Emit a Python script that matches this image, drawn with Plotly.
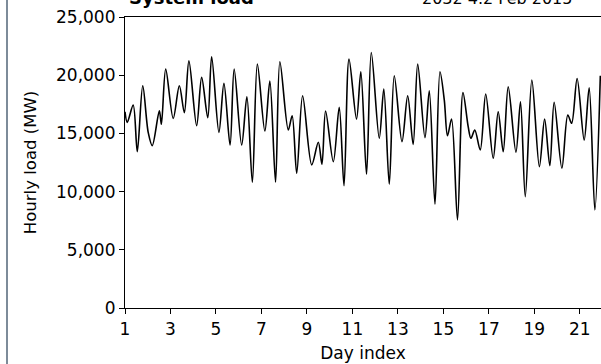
import plotly.graph_objects as go

day_index = [1.00, 1.10, 1.36, 1.54, 1.78, 2.02, 2.20, 2.51, 2.60, 2.79,
             3.12, 3.39, 3.61, 3.81, 4.15, 4.37, 4.64, 4.81, 5.13, 5.35,
             5.62, 5.80, 6.13, 6.36, 6.60, 6.82, 7.15, 7.37, 7.62, 7.81,
             8.18, 8.35, 8.55, 8.81, 9.21, 9.50, 9.66, 9.82, 10.16, 10.42,
             10.63, 10.85, 11.18, 11.37, 11.62, 11.83, 12.18, 12.38, 12.62, 12.84,
             13.18, 13.43, 13.67, 13.87, 14.19, 14.38, 14.63, 14.85, 15.04, 15.18,
             15.36, 15.62, 15.86, 16.09, 16.21, 16.38, 16.62, 16.86, 17.19, 17.41,
             17.63, 17.85, 18.19, 18.39, 18.60, 18.89, 19.22, 19.45, 19.68, 19.87,
             20.21, 20.47, 20.64, 20.88, 21.19, 21.41, 21.66, 21.90]

load_mw = [16860, 15950, 17430, 13430, 19090, 15090, 13950, 16950, 15780, 20520,
           16290, 19090, 16780, 21230, 15660, 19810, 16350, 21580, 15090, 19300,
           14000, 20520, 14000, 18150, 10800, 20950, 15200, 19490, 10800, 21150,
           15290, 16520, 11580, 18230, 12300, 14240, 12350, 16920, 12570, 17240,
           10510, 21380, 16230, 20290, 11490, 21950, 14580, 18810, 10630, 19950,
           14290, 18230, 14060, 20950, 14630, 18660, 8920, 20290, 17860, 14800,
           16230, 7570, 18520, 15580, 14580, 15290, 13580, 18380, 12860, 16860,
           13430, 19000, 13380, 17720, 9570, 19580, 12140, 16230, 12230, 17670,
           12010, 16580, 15870, 19720, 14430, 18920, 8430, 19950]

x_ticks = [1, 3, 5, 7, 9, 11, 13, 15, 17, 19, 21]
y_ticks = [0, 5000, 10000, 15000, 20000, 25000]
y_tick_labels = ["0", "5,000", "10,000", "15,000", "20,000", "25,000"]

title_text = "<b>System load</b>"
subtitle_text = "2032 4.2 Feb 2015"
x_title = "Day index"
y_title = "Hourly load (MW)"

FONT = "DejaVu Sans"

fig = go.Figure()
fig.add_trace(go.Scatter(
    x=day_index, y=load_mw, mode="lines",
    line=dict(color="black", width=1.6, shape="spline", smoothing=0.9),
    showlegend=False, hoverinfo="skip",
))

axis_common = dict(
    showgrid=False, zeroline=False, showline=True, linecolor="black", linewidth=1.2,
    ticks="outside", ticklen=5, tickwidth=1.2, tickcolor="black",
    tickfont=dict(family=FONT, size=17, color="black"),
)

fig.update_layout(
    width=601, height=364,
    margin=dict(l=125, r=0, t=17, b=56),
    paper_bgcolor="white", plot_bgcolor="white",
    font=dict(family=FONT, color="black"),
    xaxis=dict(range=[1, 21.93], tickvals=x_ticks, ticktext=[str(t) for t in x_ticks],
               mirror=True, title=dict(text=x_title, font=dict(family=FONT, size=17), standoff=9),
               **axis_common),
    yaxis=dict(range=[0, 25000], tickvals=y_ticks, ticktext=y_tick_labels,
               title=dict(text=y_title, font=dict(family=FONT, size=16.5), standoff=15),
               **axis_common),
    shapes=[dict(type="line", xref="paper", yref="paper",
                 x0=-0.2479, x1=-0.2479, y0=-0.25, y1=1.1,
                 line=dict(color="#7d8b99", width=2))],
    annotations=[
        dict(text=title_text, xref="paper", yref="paper", x=0.005, y=1, yanchor="bottom",
             xanchor="left", yshift=7, showarrow=False,
             font=dict(family=FONT, size=18, color="black")),
        dict(text=subtitle_text, xref="paper", yref="paper", x=0.619, y=1, yanchor="bottom",
             xanchor="left", yshift=7, showarrow=False,
             font=dict(family=FONT, size=16, color="black")),
    ],
)

fig.write_html("out.html", config={"displayModeBar": False},
               post_script="document.body.style.margin='0';document.body.style.overflow='hidden';")
